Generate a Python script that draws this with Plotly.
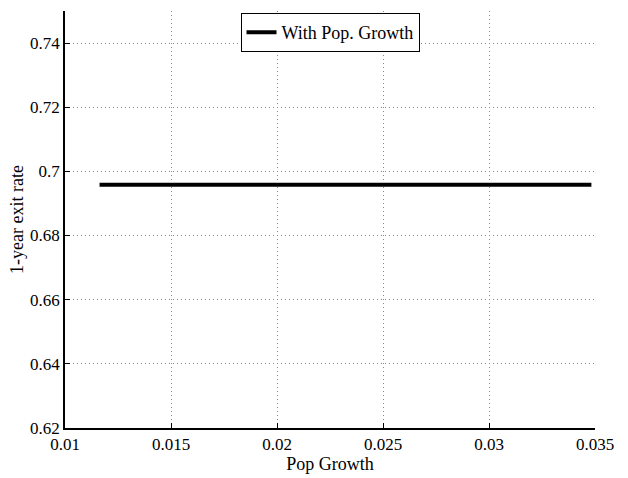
import plotly.graph_objects as go

pop_growth = [0.01163, 0.015, 0.02, 0.025, 0.03, 0.03483]
exit_rate = [0.6958, 0.6958, 0.6958, 0.6958, 0.6958, 0.6958]
series_name = "With Pop. Growth"

fig = go.Figure()
fig.add_trace(go.Scatter(x=pop_growth, y=exit_rate, mode="lines", name=series_name,
                         line=dict(color="black", width=4)))

fam = "Liberation Serif, Times New Roman, serif"
tick_font = dict(family=fam, size=17, color="black")
title_font = dict(family=fam, size=18, color="black")
axis_common = dict(showline=True, linecolor="black", linewidth=1.5, ticks="inside", ticklen=5,
                   tickcolor="black", showgrid=True, gridcolor="#888888", griddash="1px,3px",
                   gridwidth=1, zeroline=False, mirror=False, tickfont=tick_font)

fig.update_layout(
    width=628, height=478, paper_bgcolor="white", plot_bgcolor="white",
    margin=dict(l=65, r=33, t=11, b=45),
    font=title_font, showlegend=True,
    legend=dict(x=0.5, xanchor="center", y=0.995, yanchor="top", bordercolor="black",
                borderwidth=1, bgcolor="white", font=title_font, tracegroupgap=0,
                itemwidth=30),
    xaxis=dict(range=[0.01, 0.035], tickvals=[0.01, 0.015, 0.02, 0.025, 0.03, 0.035],
               ticktext=["0.01", "0.015", "0.02", "0.025", "0.03", "0.035"],
               title=dict(text="Pop Growth", font=title_font, standoff=0), **axis_common),
    yaxis=dict(range=[0.62, 0.75], tickvals=[0.62, 0.64, 0.66, 0.68, 0.7, 0.72, 0.74],
               ticktext=["0.62", "0.64", "0.66", "0.68", "0.7", "0.72", "0.74"],
               title=dict(text="1-year exit rate", font=title_font, standoff=2), **axis_common),
)
fig.write_html("out.html")
